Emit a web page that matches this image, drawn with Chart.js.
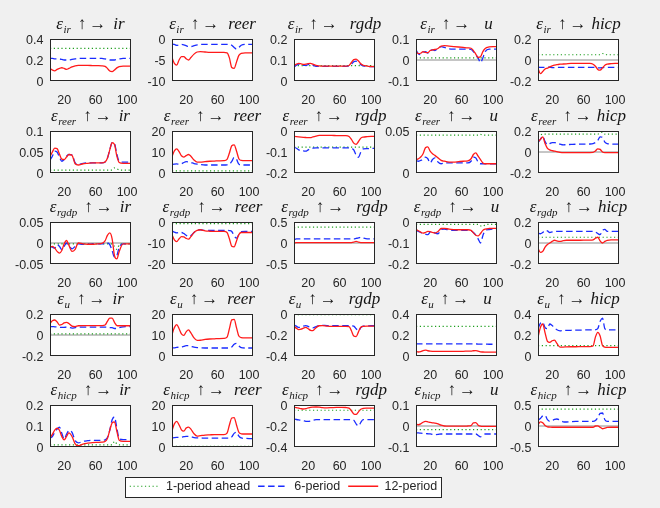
<!DOCTYPE html>
<html>
<head>
<meta charset="utf-8">
<script src="https://cdn.jsdelivr.net/npm/chart.js@4.4.1/dist/chart.umd.min.js"></script>
<style>
  html, body { margin: 0; padding: 0; background: #f0f0f0; }
  #fig { position: relative; width: 660px; height: 508px; overflow: hidden; background: #f0f0f0; }
  #fig > canvas { position: absolute; }
  #legendBox { position: absolute; left: 125px; top: 477px; width: 315px; height: 19px;
               border: 1px solid #262626; background: #fff; overflow: hidden; }
  #legendBox canvas { position: absolute; left: -24px; top: -6px; }
</style>
</head>
<body>
<div id="fig"><div id="legendBox"></div></div>
<script>
// horizon axis (shared by every panel)
const X = [2, 5, 8, 11, 14, 17, 20, 23, 26, 30, 34, 38, 44, 50, 56, 62, 68, 72, 75, 78, 81, 84, 87, 90, 95, 100, 105];
const xTicks = [20, 60, 100];

const shocks = ['ir', 'reer', 'rgdp', 'u', 'hicp'];
const responses = ['ir', 'reer', 'rgdp', 'u', 'hicp'];

// y ticks per row (first/last = axis limits)
const yTicks_ir = [[0, 0.2, 0.4], [-10, -5, 0], [0, 0.1, 0.2], [-0.1, 0, 0.1], [-0.2, 0, 0.2]];
const yTicks_reer = [[0, 0.05, 0.1], [0, 10, 20], [-0.2, -0.1, 0], [0, 0.05], [-0.2, 0, 0.2]];
const yTicks_rgdp = [[-0.05, 0, 0.05], [-20, -10, 0], [-0.5, 0, 0.5], [-0.2, -0.1, 0], [-0.2, 0, 0.2]];
const yTicks_u = [[-0.2, 0, 0.2], [0, 10, 20], [-0.4, -0.2, 0], [0, 0.2, 0.4], [0, 0.2, 0.4]];
const yTicks_hicp = [[0, 0.1, 0.2], [0, 10, 20], [-0.4, -0.2, 0], [-0.1, 0, 0.1], [-0.5, 0, 0.5]];

// ---- shock ir ----
const ir_ir_p1 = [0.31,0.31,0.31,0.31,0.31,0.31,0.31,0.31,0.31,
  0.31,0.31,0.31,0.31,0.31,0.31,0.31,0.31,0.31,
  0.31,0.31,0.31,0.31,0.31,0.31,0.31,0.31,0.31];
const ir_ir_p6 = [0.215,0.215,0.21,0.21,0.21,0.205,0.2,0.2,0.2,
  0.205,0.21,0.215,0.215,0.215,0.215,0.215,0.215,0.21,
  0.205,0.2,0.2,0.2,0.205,0.21,0.215,0.215,0.215];
const ir_ir_p12 = [0.12,0.105,0.097,0.11,0.12,0.126,0.12,0.11,0.12,
  0.135,0.145,0.148,0.148,0.148,0.147,0.146,0.145,0.14,
  0.12,0.095,0.09,0.105,0.125,0.138,0.142,0.142,0.142];

const ir_reer_p1 = [-0.1,-0.1,-0.1,-0.1,-0.1,-0.1,-0.1,-0.1,-0.1,
  -0.1,-0.1,-0.1,-0.1,-0.1,-0.1,-0.1,-0.1,-0.1,
  -0.1,-0.1,-0.1,-0.1,-0.1,-0.1,-0.1,-0.1,-0.1];
const ir_reer_p6 = [-1.2,-1.3,-1.5,-1.4,-1.3,-1.4,-1.6,-1.8,-1.8,
  -1.6,-1.4,-1.3,-1.3,-1.3,-1.3,-1.3,-1.3,-1.3,
  -1.3,-1.5,-2.0,-2.4,-2.0,-1.5,-1.3,-1.3,-1.3];
const ir_reer_p12 = [-4.4,-5.8,-6.2,-5.0,-4.2,-4.2,-4.7,-5.0,-4.4,
  -3.6,-3.1,-3.0,-3.1,-3.2,-3.2,-3.2,-3.2,-3.3,
  -4.5,-6.8,-7.0,-5.5,-3.9,-3.4,-3.3,-3.3,-3.3];

const ir_rgdp_p1 = [0.073,0.073,0.073,0.073,0.073,0.073,0.073,0.073,0.073,
  0.073,0.073,0.073,0.073,0.073,0.073,0.073,0.073,0.073,
  0.073,0.073,0.073,0.073,0.073,0.073,0.073,0.073,0.073];
const ir_rgdp_p6 = [0.066,0.075,0.08,0.078,0.074,0.074,0.078,0.08,0.076,
  0.07,0.07,0.07,0.07,0.07,0.07,0.07,0.07,0.072,
  0.08,0.092,0.095,0.088,0.078,0.072,0.07,0.068,0.068];
const ir_rgdp_p12 = [0.073,0.08,0.084,0.082,0.079,0.08,0.083,0.084,0.08,
  0.074,0.072,0.071,0.071,0.071,0.071,0.071,0.071,0.074,
  0.088,0.102,0.104,0.095,0.082,0.075,0.071,0.069,0.068];

const ir_u_p1 = [0.01,0.01,0.01,0.01,0.01,0.01,0.01,0.01,0.01,
  0.01,0.01,0.01,0.01,0.01,0.01,0.01,0.01,0.01,
  0.01,0.01,0.01,0.01,0.01,0.01,0.01,0.01,0.01];
const ir_u_p6 = [0.048,0.03,0.025,0.038,0.04,0.033,0.045,0.048,0.045,
  0.055,0.064,0.06,0.053,0.052,0.052,0.052,0.052,0.05,
  0.04,0.025,0.01,-0.012,0.01,0.04,0.052,0.052,0.052];
const ir_u_p12 = [0.04,0.03,0.032,0.04,0.036,0.035,0.045,0.048,0.05,
  0.055,0.066,0.068,0.066,0.064,0.062,0.06,0.058,0.056,
  0.045,0.028,0.012,0.015,0.04,0.055,0.062,0.064,0.064];

const ir_hicp_p1 = [0.05,0.05,0.05,0.05,0.05,0.05,0.05,0.05,0.05,
  0.05,0.05,0.05,0.05,0.05,0.05,0.05,0.05,0.05,
  0.05,0.05,0.05,0.062,0.055,0.05,0.05,0.05,0.05];
const ir_hicp_p6 = [-0.065,-0.07,-0.07,-0.07,-0.068,-0.07,-0.072,-0.072,-0.07,
  -0.07,-0.07,-0.07,-0.07,-0.07,-0.07,-0.07,-0.07,-0.07,
  -0.072,-0.075,-0.075,-0.073,-0.07,-0.07,-0.07,-0.07,-0.07];
const ir_hicp_p12 = [-0.08,-0.13,-0.11,-0.085,-0.078,-0.065,-0.055,-0.048,-0.045,
  -0.04,-0.038,-0.036,-0.033,-0.032,-0.032,-0.032,-0.033,-0.04,
  -0.06,-0.09,-0.097,-0.075,-0.05,-0.04,-0.035,-0.032,-0.032];

// ---- shock reer ----
const reer_ir_p1 = [0.007,0.007,0.007,0.007,0.007,0.007,0.007,0.007,0.007,
  0.007,0.007,0.007,0.007,0.007,0.007,0.007,0.007,0.007,
  0.007,0.007,0.007,0.012,0.01,0.007,0.007,0.007,0.007];
const reer_ir_p6 = [0.031,0.04,0.052,0.05,0.038,0.028,0.032,0.04,0.044,
  0.043,0.024,0.02,0.023,0.024,0.024,0.024,0.024,0.026,
  0.035,0.055,0.072,0.07,0.045,0.028,0.026,0.026,0.026];
const reer_ir_p12 = [0.039,0.05,0.059,0.058,0.045,0.033,0.032,0.038,0.044,
  0.042,0.022,0.019,0.022,0.023,0.024,0.024,0.024,0.026,
  0.035,0.055,0.072,0.068,0.04,0.025,0.023,0.023,0.023];

const reer_reer_p1 = [1,1,1,1,1,1,1,1,1,
  1,1,1,1,1,1,1,1,1,
  1,1,1,1,1,1,1,1,1];
const reer_reer_p6 = [4.0,4.2,4.3,4.2,4.4,5.0,5.4,5.3,5.0,
  4.5,4.2,4.0,3.8,3.8,3.8,3.8,3.8,3.9,
  4.2,5.5,7.4,6.5,4.2,3.8,3.8,3.8,3.8];
const reer_reer_p12 = [7.8,10.5,11.5,10.2,8.2,7.6,8.3,8.8,8.0,
  6.2,5.2,5.2,5.4,5.6,5.7,5.8,5.9,6.5,
  9.5,13.0,13.4,10.5,6.8,6.0,5.9,5.9,5.9];

const reer_rgdp_p1 = [-0.077,-0.077,-0.077,-0.077,-0.077,-0.077,-0.077,-0.077,-0.077,
  -0.077,-0.077,-0.077,-0.077,-0.077,-0.077,-0.077,-0.077,-0.077,
  -0.077,-0.077,-0.077,-0.077,-0.077,-0.077,-0.077,-0.077,-0.077];
const reer_rgdp_p6 = [-0.077,-0.082,-0.09,-0.094,-0.095,-0.096,-0.09,-0.085,-0.082,
  -0.08,-0.08,-0.08,-0.08,-0.08,-0.08,-0.08,-0.08,-0.08,
  -0.082,-0.09,-0.115,-0.125,-0.1,-0.085,-0.084,-0.083,-0.083];
const reer_rgdp_p12 = [-0.026,-0.027,-0.028,-0.029,-0.03,-0.031,-0.032,-0.032,-0.028,
  -0.024,-0.021,-0.021,-0.021,-0.021,-0.022,-0.022,-0.022,-0.026,
  -0.04,-0.058,-0.064,-0.05,-0.034,-0.029,-0.027,-0.026,-0.026];

const reer_u_p1 = [0.045,0.045,0.045,0.045,0.045,0.045,0.045,0.045,0.045,
  0.045,0.045,0.045,0.045,0.045,0.045,0.045,0.045,0.045,
  0.045,0.045,0.045,0.046,0.045,0.045,0.045,0.045,0.045];
const reer_u_p6 = [0.015,0.014,0.015,0.016,0.019,0.017,0.012,0.016,0.018,
  0.013,0.011,0.012,0.012,0.012,0.012,0.012,0.012,0.014,
  0.019,0.018,0.013,0.011,0.011,0.011,0.011,0.011,0.011];
const reer_u_p12 = [0.0156,0.017,0.019,0.023,0.03,0.031,0.026,0.023,0.021,
  0.018,0.015,0.014,0.013,0.013,0.0135,0.014,0.0145,0.017,
  0.022,0.024,0.02,0.016,0.012,0.011,0.011,0.011,0.011];

const reer_hicp_p1 = [0.14,0.16,0.17,0.17,0.17,0.17,0.17,0.17,0.17,
  0.17,0.17,0.17,0.17,0.17,0.17,0.17,0.17,0.17,
  0.17,0.17,0.18,0.19,0.17,0.17,0.17,0.17,0.17];
const reer_hicp_p6 = [0.09,0.12,0.15,0.1,0.07,0.08,0.09,0.09,0.085,
  0.075,0.068,0.07,0.072,0.074,0.075,0.075,0.076,0.08,
  0.09,0.11,0.145,0.14,0.095,0.08,0.076,0.075,0.075];
const reer_hicp_p12 = [0.095,0.12,0.145,0.08,0.035,0.02,0.012,0.008,0.003,
  -0.003,-0.006,-0.006,-0.006,-0.006,-0.006,-0.005,-0.005,-0.004,
  0.01,0.03,0.025,0.0,-0.006,-0.006,-0.006,-0.006,-0.006];

// ---- shock rgdp ----
const rgdp_ir_p1 = [-0.002,-0.002,-0.002,-0.002,-0.002,-0.002,-0.002,-0.002,-0.002,
  -0.002,-0.002,-0.002,-0.002,-0.002,-0.002,-0.002,-0.002,-0.002,
  -0.002,-0.002,-0.002,-0.008,-0.015,-0.005,-0.002,-0.002,-0.002];
const rgdp_ir_p6 = [-0.008,-0.01,-0.012,-0.004,-0.008,-0.016,-0.008,0.0,-0.006,
  -0.014,-0.008,-0.002,-0.003,-0.003,-0.002,-0.002,-0.002,-0.001,
  0.0,-0.004,-0.018,-0.034,-0.03,-0.01,-0.002,-0.002,-0.002];
const rgdp_ir_p12 = [-0.01,-0.008,-0.012,-0.02,-0.024,-0.018,-0.002,0.006,-0.005,
  -0.02,-0.015,0.0,-0.002,-0.003,-0.003,-0.002,-0.001,0.005,
  0.018,0.024,0.01,-0.03,-0.038,-0.02,-0.002,-0.002,-0.002];

const rgdp_reer_p1 = [-0.8,-0.8,-0.8,-0.8,-0.8,-0.8,-0.8,-0.8,-0.8,
  -0.8,-0.8,-0.8,-0.8,-0.8,-0.8,-0.8,-0.8,-0.8,
  -0.8,-0.8,-0.8,-0.8,-0.8,-0.8,-0.8,-0.8,-0.8];
const rgdp_reer_p6 = [-4.3,-4.8,-5.2,-5.0,-5.0,-5.5,-6.3,-6.9,-6.5,
  -5.0,-3.8,-3.7,-4.0,-4.0,-4.0,-4.0,-4.0,-4.0,
  -4.1,-4.5,-6.5,-7.7,-6.0,-4.6,-4.5,-4.5,-4.5];
const rgdp_reer_p12 = [-6.1,-8.5,-9.3,-8.0,-7.0,-7.1,-7.8,-8.2,-7.0,
  -5.0,-4.0,-3.7,-4.2,-4.4,-4.5,-4.5,-4.5,-5.0,
  -8.0,-11.5,-11.8,-9.0,-6.0,-5.0,-5.0,-5.0,-5.0];

const rgdp_rgdp_p1 = [0.36,0.37,0.38,0.38,0.38,0.38,0.38,0.38,0.38,
  0.38,0.38,0.38,0.38,0.38,0.38,0.38,0.38,0.38,
  0.38,0.38,0.38,0.38,0.38,0.38,0.38,0.38,0.38];
const rgdp_rgdp_p6 = [0.08,0.1,0.1,0.1,0.1,0.1,0.1,0.1,0.1,
  0.1,0.1,0.1,0.1,0.1,0.1,0.1,0.1,0.1,
  0.1,0.1,0.11,0.12,0.14,0.12,0.1,0.1,0.1];
const rgdp_rgdp_p12 = [0.0,0.01,0.01,0.01,0.01,0.01,0.01,0.01,0.01,
  0.01,0.01,0.01,0.01,0.01,0.01,0.01,0.01,0.01,
  0.01,0.02,0.04,0.02,0.01,0.01,0.01,0.01,0.01];

const rgdp_u_p1 = [-0.011,-0.011,-0.011,-0.011,-0.011,-0.011,-0.011,-0.011,-0.011,
  -0.011,-0.011,-0.011,-0.011,-0.011,-0.011,-0.011,-0.011,-0.011,
  -0.011,-0.011,-0.011,-0.018,-0.02,-0.013,-0.011,-0.011,-0.011];
const rgdp_u_p6 = [-0.04,-0.045,-0.05,-0.055,-0.058,-0.06,-0.048,-0.045,-0.052,
  -0.056,-0.036,-0.034,-0.038,-0.04,-0.04,-0.04,-0.04,-0.042,
  -0.05,-0.062,-0.08,-0.1,-0.065,-0.04,-0.036,-0.034,-0.034];
const rgdp_u_p12 = [-0.034,-0.042,-0.048,-0.053,-0.05,-0.045,-0.046,-0.05,-0.053,
  -0.045,-0.031,-0.03,-0.034,-0.036,-0.037,-0.037,-0.037,-0.04,
  -0.052,-0.063,-0.066,-0.055,-0.04,-0.034,-0.031,-0.03,-0.03];

const rgdp_hicp_p1 = [0.055,0.055,0.055,0.055,0.055,0.055,0.055,0.055,0.055,
  0.055,0.055,0.055,0.055,0.055,0.055,0.055,0.055,0.055,
  0.055,0.055,0.055,0.055,0.055,0.055,0.055,0.055,0.055];
const rgdp_hicp_p6 = [0.095,0.088,0.1,0.12,0.115,0.1,0.105,0.11,0.11,
  0.11,0.11,0.11,0.11,0.11,0.11,0.11,0.11,0.11,
  0.105,0.09,0.08,0.12,0.13,0.11,0.11,0.11,0.11];
const rgdp_hicp_p12 = [-0.05,-0.09,-0.08,-0.04,-0.015,0.0,0.015,0.026,0.02,
  0.015,0.022,0.026,0.026,0.026,0.026,0.027,0.028,0.03,
  0.045,0.055,0.02,0.0,0.015,0.026,0.03,0.03,0.03];

// ---- shock u ----
const u_ir_p1 = [0.01,0.01,0.01,0.01,0.01,0.01,0.01,0.01,0.01,
  0.01,0.01,0.01,0.01,0.01,0.01,0.01,0.01,0.01,
  0.01,0.01,0.01,0.01,0.01,0.01,0.01,0.01,0.01];
const u_ir_p6 = [0.08,0.08,0.078,0.076,0.073,0.072,0.073,0.075,0.073,
  0.065,0.07,0.075,0.075,0.075,0.075,0.075,0.075,0.075,
  0.075,0.07,0.07,0.062,0.062,0.07,0.078,0.08,0.08];
const u_ir_p12 = [0.11,0.135,0.143,0.125,0.095,0.1,0.115,0.12,0.11,
  0.085,0.08,0.088,0.089,0.089,0.089,0.089,0.09,0.095,
  0.13,0.16,0.16,0.12,0.09,0.088,0.088,0.088,0.088];

const u_reer_p1 = [0.2,0.2,0.2,0.2,0.2,0.2,0.2,0.2,0.2,
  0.2,0.2,0.2,0.2,0.2,0.2,0.2,0.2,0.2,
  0.2,0.2,0.2,0.2,0.2,0.2,0.2,0.2,0.2];
const u_reer_p6 = [3.8,3.9,4.1,4.2,4.3,4.6,4.9,4.9,4.6,
  4.2,4.0,3.9,3.8,3.8,3.8,3.8,3.8,3.8,
  3.8,4.3,5.6,6.0,4.8,4.0,3.8,3.8,3.8];
const u_reer_p12 = [10.2,13.5,14.9,13.0,10.5,9.8,11.5,12.4,11.0,
  8.6,7.4,7.5,7.9,8.1,8.2,8.3,8.4,9.0,
  13.0,17.2,17.4,13.5,9.5,8.8,8.6,8.6,8.6];

const u_rgdp_p1 = [-0.005,-0.005,-0.005,-0.005,-0.005,-0.005,-0.005,-0.005,-0.005,
  -0.005,-0.005,-0.005,-0.005,-0.005,-0.005,-0.005,-0.005,-0.005,
  -0.005,-0.005,-0.005,-0.005,-0.005,-0.005,-0.005,-0.005,-0.005];
const u_rgdp_p6 = [-0.105,-0.115,-0.128,-0.125,-0.115,-0.11,-0.118,-0.13,-0.132,
  -0.12,-0.11,-0.108,-0.11,-0.11,-0.11,-0.11,-0.11,-0.11,
  -0.112,-0.115,-0.14,-0.16,-0.13,-0.115,-0.113,-0.112,-0.112];
const u_rgdp_p12 = [-0.12,-0.135,-0.148,-0.145,-0.135,-0.128,-0.14,-0.155,-0.158,
  -0.13,-0.112,-0.11,-0.115,-0.117,-0.117,-0.118,-0.118,-0.12,
  -0.16,-0.21,-0.215,-0.17,-0.125,-0.117,-0.115,-0.115,-0.115];

const u_u_p1 = [0.283,0.283,0.283,0.283,0.283,0.283,0.283,0.283,0.283,
  0.283,0.283,0.283,0.283,0.283,0.283,0.283,0.283,0.283,
  0.283,0.283,0.283,0.283,0.283,0.283,0.283,0.283,0.283];
const u_u_p6 = [0.116,0.116,0.115,0.115,0.115,0.115,0.115,0.115,0.115,
  0.115,0.115,0.115,0.115,0.115,0.115,0.115,0.115,0.115,
  0.115,0.115,0.114,0.114,0.113,0.113,0.112,0.112,0.112];
const u_u_p12 = [0.045,0.038,0.042,0.052,0.056,0.05,0.046,0.045,0.045,
  0.045,0.045,0.045,0.045,0.045,0.045,0.045,0.046,0.046,
  0.05,0.052,0.046,0.04,0.038,0.037,0.036,0.036,0.036];

const u_hicp_p1 = [0.098,0.098,0.098,0.098,0.098,0.098,0.098,0.098,0.098,
  0.098,0.098,0.098,0.098,0.098,0.098,0.098,0.098,0.098,
  0.098,0.098,0.098,0.098,0.098,0.098,0.098,0.098,0.098];
const u_hicp_p6 = [0.26,0.31,0.32,0.27,0.26,0.305,0.29,0.27,0.25,
  0.24,0.245,0.245,0.245,0.246,0.247,0.248,0.248,0.248,
  0.25,0.26,0.33,0.36,0.26,0.248,0.248,0.248,0.248];
const u_hicp_p12 = [0.178,0.27,0.305,0.22,0.14,0.13,0.145,0.152,0.12,
  0.085,0.085,0.087,0.088,0.088,0.089,0.09,0.09,0.095,
  0.18,0.225,0.19,0.1,0.085,0.083,0.083,0.083,0.083];

// ---- shock hicp ----
const hicp_ir_p1 = [0.01,0.01,0.01,0.01,0.01,0.01,0.01,0.01,0.01,
  0.01,0.01,0.01,0.01,0.01,0.01,0.01,0.01,0.01,
  0.01,0.01,0.01,0.027,0.015,0.01,0.01,0.01,0.01];
const hicp_ir_p6 = [0.043,0.05,0.07,0.085,0.095,0.065,0.038,0.06,0.078,
  0.07,0.03,0.02,0.027,0.03,0.032,0.032,0.032,0.034,
  0.045,0.08,0.13,0.143,0.09,0.04,0.035,0.035,0.035];
const hicp_ir_p12 = [0.043,0.06,0.08,0.09,0.08,0.05,0.034,0.05,0.067,
  0.05,0.015,0.006,0.014,0.018,0.021,0.022,0.023,0.026,
  0.04,0.08,0.115,0.12,0.075,0.032,0.027,0.027,0.027];

const hicp_reer_p1 = [0.3,0.3,0.3,0.3,0.3,0.3,0.3,0.3,0.3,
  0.3,0.3,0.3,0.3,0.3,0.3,0.3,0.3,0.3,
  0.3,0.3,0.3,0.3,0.3,0.3,0.3,0.3,0.3];
const hicp_reer_p6 = [4.3,4.5,4.6,4.6,4.7,4.9,5.1,5.1,4.9,
  4.5,4.3,4.3,4.2,4.2,4.2,4.2,4.2,4.2,
  4.2,4.8,6.5,7.0,5.2,4.3,4.1,4.0,4.0];
const hicp_reer_p12 = [7.8,11.0,12.2,10.5,8.2,7.6,9.0,9.5,8.5,
  6.3,5.2,5.4,5.7,5.8,5.9,5.9,5.9,6.6,
  10.5,13.8,14.0,10.5,7.0,6.3,6.2,6.2,6.2];

const hicp_rgdp_p1 = [-0.05,-0.05,-0.05,-0.05,-0.05,-0.05,-0.05,-0.05,-0.05,
  -0.05,-0.05,-0.05,-0.05,-0.05,-0.05,-0.05,-0.05,-0.05,
  -0.05,-0.05,-0.05,-0.05,-0.05,-0.05,-0.05,-0.05,-0.05];
const hicp_rgdp_p6 = [-0.133,-0.138,-0.142,-0.145,-0.15,-0.155,-0.156,-0.152,-0.145,
  -0.14,-0.14,-0.14,-0.14,-0.14,-0.14,-0.14,-0.14,-0.14,
  -0.14,-0.145,-0.18,-0.2,-0.165,-0.14,-0.14,-0.14,-0.14];
const hicp_rgdp_p12 = [-0.022,-0.025,-0.03,-0.035,-0.038,-0.035,-0.028,-0.022,-0.02,
  -0.019,-0.02,-0.025,-0.027,-0.025,-0.023,-0.023,-0.024,-0.03,
  -0.055,-0.085,-0.09,-0.065,-0.04,-0.032,-0.03,-0.029,-0.029];

const hicp_u_p1 = [-0.017,-0.017,-0.017,-0.017,-0.017,-0.017,-0.017,-0.017,-0.017,
  -0.017,-0.017,-0.017,-0.017,-0.017,-0.017,-0.017,-0.017,-0.017,
  -0.017,-0.017,-0.017,-0.017,-0.017,-0.017,-0.017,-0.017,-0.017];
const hicp_u_p6 = [-0.033,-0.033,-0.034,-0.035,-0.036,-0.037,-0.038,-0.04,-0.041,
  -0.04,-0.038,-0.038,-0.038,-0.038,-0.038,-0.038,-0.038,-0.038,
  -0.038,-0.038,-0.045,-0.052,-0.045,-0.038,-0.038,-0.038,-0.038];
const hicp_u_p12 = [0.0095,0.006,0.01,0.018,0.022,0.02,0.017,0.015,0.014,
  0.01,0.004,0.0,-0.001,-0.001,-0.001,-0.001,0.0,0.002,
  0.015,0.016,0.004,-0.001,-0.002,-0.002,-0.002,-0.002,-0.002];

const hicp_hicp_p1 = [0.38,0.4,0.4,0.4,0.4,0.4,0.4,0.4,0.4,
  0.4,0.4,0.4,0.4,0.4,0.4,0.4,0.4,0.4,
  0.4,0.4,0.4,0.4,0.4,0.4,0.4,0.4,0.4];
const hicp_hicp_p6 = [0.135,0.18,0.24,0.25,0.15,0.11,0.13,0.155,0.167,
  0.14,0.1,0.095,0.105,0.11,0.11,0.11,0.11,0.11,
  0.13,0.2,0.3,0.31,0.15,0.11,0.11,0.11,0.11];
const hicp_hicp_p12 = [0.03,0.1,0.08,0.01,-0.02,-0.025,-0.03,-0.03,-0.03,
  -0.03,-0.03,-0.03,-0.03,-0.03,-0.03,-0.03,-0.03,-0.03,
  0.0,0.005,-0.03,-0.065,-0.05,-0.035,-0.03,-0.03,-0.03];

// lookup tables built from the arrays above
const yTicks = { ir: yTicks_ir, reer: yTicks_reer, rgdp: yTicks_rgdp, u: yTicks_u, hicp: yTicks_hicp };
const series = {
  ir:   { ir: [ir_ir_p1, ir_ir_p6, ir_ir_p12], reer: [ir_reer_p1, ir_reer_p6, ir_reer_p12], rgdp: [ir_rgdp_p1, ir_rgdp_p6, ir_rgdp_p12], u: [ir_u_p1, ir_u_p6, ir_u_p12], hicp: [ir_hicp_p1, ir_hicp_p6, ir_hicp_p12] },
  reer: { ir: [reer_ir_p1, reer_ir_p6, reer_ir_p12], reer: [reer_reer_p1, reer_reer_p6, reer_reer_p12], rgdp: [reer_rgdp_p1, reer_rgdp_p6, reer_rgdp_p12], u: [reer_u_p1, reer_u_p6, reer_u_p12], hicp: [reer_hicp_p1, reer_hicp_p6, reer_hicp_p12] },
  rgdp: { ir: [rgdp_ir_p1, rgdp_ir_p6, rgdp_ir_p12], reer: [rgdp_reer_p1, rgdp_reer_p6, rgdp_reer_p12], rgdp: [rgdp_rgdp_p1, rgdp_rgdp_p6, rgdp_rgdp_p12], u: [rgdp_u_p1, rgdp_u_p6, rgdp_u_p12], hicp: [rgdp_hicp_p1, rgdp_hicp_p6, rgdp_hicp_p12] },
  u:    { ir: [u_ir_p1, u_ir_p6, u_ir_p12], reer: [u_reer_p1, u_reer_p6, u_reer_p12], rgdp: [u_rgdp_p1, u_rgdp_p6, u_rgdp_p12], u: [u_u_p1, u_u_p6, u_u_p12], hicp: [u_hicp_p1, u_hicp_p6, u_hicp_p12] },
  hicp: { ir: [hicp_ir_p1, hicp_ir_p6, hicp_ir_p12], reer: [hicp_reer_p1, hicp_reer_p6, hicp_reer_p12], rgdp: [hicp_rgdp_p1, hicp_rgdp_p6, hicp_rgdp_p12], u: [hicp_u_p1, hicp_u_p6, hicp_u_p12], hicp: [hicp_hicp_p1, hicp_hicp_p6, hicp_hicp_p12] }
};

// styles
const GREEN = '#1e9e1e', BLUE = '#1a2cff', RED = '#ff1a1a', ZERO = '#8c8c8c', AXIS = '#262626';
const DOT = [1.2, 2.6], DASH = [6.5, 3.5];
const TICK_FONT = { family: 'Liberation Sans', size: 12.5 };
const PLOT_W = 81, PLOT_H = 42, PAD_L = 50, PAD_T = 32, PAD_R = 18, AXIS_H = 28;
const TITLE_GAP = { ir: 7, reer: 9, rgdp: 12, u: 14, hicp: 5 };

// white axes box with dark frame
const framePlugin = {
  id: 'frame',
  beforeDatasetsDraw(chart) {
    const { ctx, chartArea: a } = chart;
    ctx.save();
    ctx.fillStyle = '#ffffff';
    ctx.fillRect(a.left, a.top, a.width, a.height);
    ctx.restore();
  },
  afterDatasetsDraw(chart) {
    const { ctx, chartArea: a } = chart;
    ctx.save();
    ctx.strokeStyle = AXIS;
    ctx.lineWidth = 1;
    ctx.strokeRect(a.left + 0.5, a.top + 0.5, a.width - 1, a.height - 1);
    ctx.restore();
  }
};

// title like  ε_shock ↑ → response
const titlePlugin = {
  id: 'irfTitle',
  afterDraw(chart, args, o) {
    const { ctx, chartArea: a } = chart;
    const base = a.top - 10;
    const big = 'italic 17px "Liberation Serif"';
    const sub = 'italic 11px "Liberation Serif"';
    const sym = '17px "Liberation Serif"';
    const parts = [
      { t: 'ε', f: big, dy: 0, gap: 0.5 },
      { t: o.shock, f: sub, dy: 3.5, gap: 7 },
      { t: '↑', f: sym, dy: 0, gap: 3 },
      { t: '→', f: sym, dy: 0, gap: TITLE_GAP[o.resp] },
      { t: o.resp, f: big, dy: 0, gap: 0 }
    ];
    ctx.save();
    let total = 0;
    parts.forEach(p => { ctx.font = p.f; p.w = ctx.measureText(p.t).width; total += p.w + p.gap; });
    let x = (a.left + a.right) / 2 - total / 2;
    ctx.fillStyle = '#151515';
    ctx.textAlign = 'left';
    ctx.textBaseline = 'alphabetic';
    parts.forEach(p => { ctx.font = p.f; ctx.fillText(p.t, x, base + p.dy); x += p.w + p.gap; });
    ctx.restore();
  }
};

function line(vals, color, dash, w) {
  return {
    data: X.map((x, i) => ({ x: x, y: vals[i] })),
    borderColor: color, borderDash: dash, borderWidth: w,
    pointRadius: 0, fill: false, cubicInterpolationMode: 'monotone', clip: 0
  };
}

const fig = document.getElementById('fig');

shocks.forEach((s, r) => {
  responses.forEach((v, c) => {
    const ticks = yTicks[s][c];
    const lo = ticks[0], hi = ticks[ticks.length - 1];
    const [p1, p6, p12] = series[s][v];
    const datasets = [line(p12, RED, [], 1.3), line(p6, BLUE, DASH, 1.3), line(p1, GREEN, DOT, 1.2)];
    if (lo < 0 && hi > 0) {
      datasets.push({ data: [{ x: X[0], y: 0 }, { x: X[X.length - 1], y: 0 }],
        borderColor: ZERO, borderWidth: 1, pointRadius: 0, clip: 0 });
    }

    const cv = document.createElement('canvas');
    cv.width = PAD_L + PLOT_W + PAD_R;
    cv.height = PAD_T + PLOT_H + AXIS_H;
    cv.style.left = Math.round(c * 122.1) + 'px';
    cv.style.top = Math.round(39.3 + r * 91.5 - PAD_T) + 'px';
    fig.appendChild(cv);

    new Chart(cv, {
      type: 'line',
      data: { datasets: datasets },
      options: {
        responsive: false, animation: false, events: [], devicePixelRatio: 1,
        layout: { padding: { top: PAD_T, right: PAD_R, left: 0, bottom: 0 } },
        plugins: { legend: { display: false }, tooltip: { enabled: false }, irfTitle: { shock: s, resp: v } },
        scales: {
          x: {
            type: 'linear', min: X[0], max: X[X.length - 1],
            afterBuildTicks: sc => { sc.ticks = xTicks.map(t => ({ value: t })); },
            afterFit: sc => { sc.height = AXIS_H; sc.paddingLeft = 0; sc.paddingRight = 0; },
            grid: { display: false }, border: { display: false },
            ticks: { callback: t => String(t), font: TICK_FONT, color: AXIS, padding: 4, maxRotation: 0, autoSkip: false }
          },
          y: {
            type: 'linear', min: lo, max: hi,
            afterBuildTicks: sc => { sc.ticks = ticks.map(t => ({ value: t })); },
            afterFit: sc => { sc.width = PAD_L; sc.paddingTop = 0; sc.paddingBottom = 0; },
            grid: { display: false, drawTicks: false }, border: { display: false },
            ticks: { callback: t => String(t), font: TICK_FONT, color: AXIS, padding: 6.5, labelOffset: 1.5, autoSkip: false }
          }
        }
      },
      plugins: [framePlugin, titlePlugin]
    });
  });
});

// legend (canvas kept tall: a top legend may only use half of the chart height)
const legCanvas = document.createElement('canvas');
legCanvas.width = 363;
legCanvas.height = 64;
document.getElementById('legendBox').appendChild(legCanvas);
new Chart(legCanvas, {
  type: 'line',
  data: {
    datasets: [
      { label: '1-period ahead', data: [], borderColor: GREEN, borderDash: DOT, borderWidth: 1.2 },
      { label: '6-period', data: [], borderColor: BLUE, borderDash: DASH, borderWidth: 1.3 },
      { label: '12-period', data: [], borderColor: RED, borderDash: [], borderWidth: 1.3 }
    ]
  },
  options: {
    responsive: false, animation: false, events: [], devicePixelRatio: 1,
    layout: { padding: 0 },
    scales: { x: { display: false }, y: { display: false } },
    plugins: {
      tooltip: { enabled: false },
      legend: {
        display: true, position: 'top', align: 'center',
        labels: {
          usePointStyle: true, pointStyle: 'line', pointStyleWidth: 30,
          font: TICK_FONT, color: AXIS, padding: 8,
          generateLabels: chart => {
            const items = Chart.defaults.plugins.legend.labels.generateLabels(chart);
            items.forEach(it => {
              const d = chart.data.datasets[it.datasetIndex];
              it.lineDash = d.borderDash;
              it.lineWidth = d.borderWidth;
              it.strokeStyle = d.borderColor;
            });
            return items;
          }
        }
      }
    }
  }
});
</script>
</body>
</html>
